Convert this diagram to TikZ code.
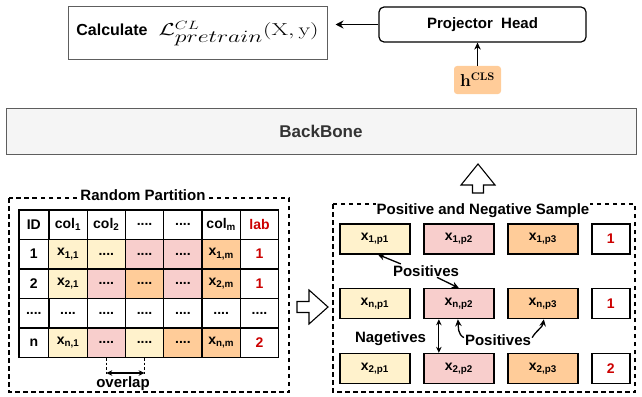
\documentclass[tikz,border=0pt]{standalone}
\usepackage[no-math]{fontspec}
\usepackage{graphicx}
\setmainfont{Liberation Sans}
\usetikzlibrary{positioning, arrows.meta, matrix}
\definecolor{Giallo}{HTML}{FFF2CC}
\definecolor{Rosa}{HTML}{F8CECC}
\definecolor{Arancio}{HTML}{FFCC99}
\definecolor{Rosso}{HTML}{CC0000}
\definecolor{Grigio}{HTML}{5E5E5E}
\definecolor{Chiaro}{HTML}{F5F5F5}
\definecolor{Testo}{HTML}{333333}
\newcommand{\dimfont}[1]{\fontsize{#1}{#1}\selectfont}
\tikzset{
    lossbox/.style={rectangle, draw=Grigio, line width=1pt, minimum width=259pt, minimum height=53pt, inner sep=0pt, font=\dimfont{18}},
    headbox/.style={rectangle, draw=black, line width=1.2pt, rounded corners=5pt, minimum width=207pt, minimum height=35pt, font=\dimfont{15}\bfseries},
    clsbox/.style={rectangle, fill=Arancio, rounded corners=3pt, minimum width=47pt, minimum height=28pt, inner sep=0pt, font=\dimfont{16}},
    backbone/.style={rectangle, draw=Grigio, fill=Chiaro, line width=1pt, minimum width=630pt, minimum height=46pt, text=Testo, font=\dimfont{17}\bfseries},
    cella/.style={rectangle, draw=black, line width=1.3pt, anchor=center, minimum width=38.3pt, minimum height=29.5pt, inner sep=0pt, font=\dimfont{14}\bfseries},
    campione/.style={rectangle, draw=black, line width=1.3pt, anchor=center, minimum width=70pt, minimum height=30pt, inner sep=0pt, font=\dimfont{14}\bfseries},
    tabella/.style={matrix of nodes, matrix anchor=north west, inner sep=0pt, column sep=-1.3pt, row sep=-1.3pt, nodes={cella},
        column 1/.style={nodes={minimum width=30pt}}, column 7/.style={nodes={text=Rosso}}},
    campioni/.style={matrix of nodes, matrix anchor=north west, inner sep=0pt, column sep=12.7pt, row sep=33.5pt, nodes={campione},
        column 4/.style={nodes={minimum width=38pt, text=Rosso}}},
    riquadro/.style={draw=black, line width=1.2pt, dash pattern=on 4.5pt off 3.5pt},
    titolo/.style={fill=white, inner sep=1pt, anchor=base, font=\dimfont{15}\bfseries},
    etichetta/.style={inner sep=1pt, anchor=base, font=\dimfont{15}\bfseries},
    freccia/.style={-{Stealth[length=7pt, width=6.5pt]}, line width=1.3pt},
    frecciadoppia/.style={{Stealth[length=6pt, width=5.5pt]}-{Stealth[length=6pt, width=5.5pt]}, line width=1.1pt},
    tratteggio/.style={draw=black, line width=0.6pt, dash pattern=on 2.5pt off 2pt},
    cava/.style={draw=black, line width=1.1pt, fill=white, line join=miter},
}

\begin{document}
\begin{tikzpicture}[x=1pt, y=-1pt]
    \useasboundingbox (0,0) rectangle (642,396);

    % Loss e Projector Head
    \node[lossbox] (loss) at (197.5,33.5) {{\dimfont{16}\bfseries Calculate}\hspace{11pt}\scalebox{1.38}[1]{$\mathcal{L}^{\mbox{\dimfont{12}$CL$}}_{\mbox{\dimfont{16}$pretrain$}}(\mathrm{X},\mathrm{y})$}};
    \node[headbox] (proj) at (482.5,24.5) {Projector~~Head};
    \node[clsbox] (cls) at (477.5,80) {$\mathbf{h}^{\mathbf{CLS}}$};
    \draw[freccia] (cls.north) -- (cls.north |- proj.south);
    \draw[freccia, -{Stealth[length=8pt, width=8pt]}, shorten >=8pt] (proj.west) -- (proj.west -| loss.east);

    % BackBone
    \node[backbone] (bb) at (321,131) {BackBone};

    % Random Partition
    \draw[riquadro] (9,198) rectangle (289,392);
    \node[titolo] (rp) at (143,200.5) {Random Partition};
    \matrix[tabella] (tab) at (18,209) {
        ID & col\textsubscript{1} & col\textsubscript{2} & .... & .... & col\textsubscript{m} & lab \\
        1 & |[fill=Giallo]| x\textsubscript{1,1} & |[fill=Giallo]| .... & |[fill=Rosa]| .... & |[fill=Rosa]| .... & |[fill=Arancio]| x\textsubscript{1,m} & 1 \\
        2 & |[fill=Giallo]| x\textsubscript{2,1} & |[fill=Rosa]| .... & |[fill=Arancio]| .... & |[fill=Rosa]| .... & |[fill=Arancio]| x\textsubscript{2,m} & 1 \\
        .... & .... & .... & .... & .... & .... & |[text=black]| .... \\
        n & |[fill=Giallo]| x\textsubscript{n,1} & |[fill=Rosa]| .... & |[fill=Giallo]| .... & |[fill=Arancio]| .... & |[fill=Arancio]| x\textsubscript{n,m} & 2 \\
    };

    % Overlap tra le partizioni
    \coordinate (ovA) at ([yshift=-16pt]tab-5-3.south);
    \coordinate (ovB) at ([yshift=-16pt]tab-5-4.south);
    \draw[tratteggio] (tab-5-3.south) -- (ovA);
    \draw[tratteggio] (tab-5-4.south) -- (ovB);
    \draw[frecciadoppia] ([yshift=1pt]ovA) -- ([yshift=1pt]ovB);
    \node[etichetta] (ov) at (123,387) {overlap};

    % Frecce cave
    \draw[cava] (297,301.5) -- (309,301.5) -- (309,290) -- (328,307) -- (309,324) -- (309,312.5) -- (297,312.5) -- cycle;
    \draw[cava] (472.5,193) -- (472.5,185) -- (461,185) -- (478,164) -- (495,185) -- (483.5,185) -- (483.5,193) -- cycle;

    % Campioni positivi e negativi
    \draw[riquadro] (333,204) rectangle (635,392);
    \node[titolo] (pns) at (483,214) {Positive and Negative Sample};
    \matrix[campioni] (camp) at (339,223) {
        |[fill=Giallo]| x\textsubscript{1,p1} & |[fill=Rosa]| x\textsubscript{1,p2} & |[fill=Arancio]| x\textsubscript{1,p3} & 1 \\
        |[fill=Giallo]| x\textsubscript{n,p1} & |[fill=Rosa]| x\textsubscript{n,p2} & |[fill=Arancio]| x\textsubscript{n,p3} & 1 \\
        |[fill=Giallo]| x\textsubscript{2,p1} & |[fill=Rosa]| x\textsubscript{2,p2} & |[fill=Arancio]| x\textsubscript{2,p3} & 2 \\
    };

    % Etichette e frecce
    \node[etichetta] (posA) at (426,276) {Positives};
    \node[etichetta] (neg) at (390.5,342) {Nagetives};
    \node[etichetta] (posB) at (498,345) {Positives};
    \draw[freccia] ([xshift=9pt]posA.north west) -- ([xshift=3pt]camp-1-1.south);
    \draw[freccia] ([xshift=11pt]posA.south) -- (camp-2-2.north);
    \draw[frecciadoppia] ([xshift=-20pt]camp-2-2.south) -- ([xshift=-20pt]camp-3-2.north);
    \draw[freccia] ([yshift=2pt]posB.west) to[out=150, in=-85] ([xshift=-1pt]camp-2-2.south);
    \draw[freccia] ([yshift=2pt]posB.east) to[out=60, in=-100] ([xshift=1pt]camp-2-3.south);
\end{tikzpicture}
\end{document}
